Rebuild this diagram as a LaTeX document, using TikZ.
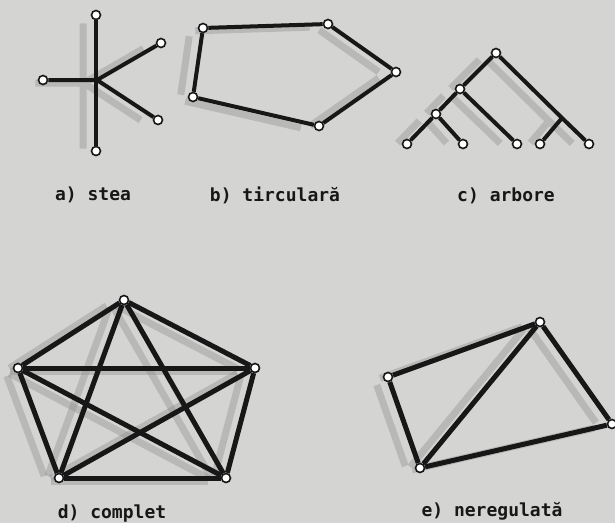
\documentclass[tikz,border=0pt]{standalone}
\usepackage{fontspec}
\setmonofont{DejaVu Sans Mono}
\usetikzlibrary{positioning}
\pgfdeclarelayer{smudge}
\pgfsetlayers{smudge,main}
\definecolor{Paper}{HTML}{D4D4D2}
\definecolor{Ink}{HTML}{171717}
\definecolor{Smudge}{HTML}{8E8E8C}

\begin{document}
\begin{tikzpicture}[
    x=1pt, y=-1pt,
    vtx/.style={
        circle,
        draw=Ink,
        fill=white,
        line width=1.6pt,
        minimum size=9pt,
        inner sep=0pt
    },
    link/.style={draw=Ink, line width=4pt},
    heavy/.style={draw=Ink, line width=5pt},
    ghost/.style={draw=Smudge, line width=7pt, opacity=0.4},
    caption/.style={font=\ttfamily\bfseries\fontsize{18}{18}\selectfont, text=Ink}
]

\useasboundingbox (0,0) rectangle (615,523);

% a) star
\coordinate (a) at (97,80);
\node[vtx] (a1) at (96,15) {};
\node[vtx] (a2) at (43,80) {};
\node[vtx] (a3) at (161,43) {};
\node[vtx] (a4) at (158,120) {};
\node[vtx] (a5) at (96,151) {};

% b) ring
\node[vtx] (b1) at (203,28) {};
\node[vtx] (b2) at (328,24) {};
\node[vtx] (b3) at (396,72) {};
\node[vtx] (b4) at (319,126) {};
\node[vtx] (b5) at (193,97) {};

% c) tree
\node[vtx] (c0) at (496,53) {};
\node[vtx] (c1) at (460,89) {};
\node[vtx] (c2) at (436,114) {};
\coordinate (c3) at (562,118);
\node[vtx] (l1) at (407,144) {};
\node[vtx] (l2) at (463,144) {};
\node[vtx] (l3) at (517,144) {};
\node[vtx] (l4) at (540,144) {};
\node[vtx] (l5) at (589,144) {};

% d) complete
\node[vtx] (d1) at (124,300) {};
\node[vtx] (d2) at (255,368) {};
\node[vtx] (d3) at (226,478) {};
\node[vtx] (d4) at (59,478) {};
\node[vtx] (d5) at (18,368) {};

% e) irregular
\node[vtx] (e1) at (388,377) {};
\node[vtx] (e2) at (540,322) {};
\node[vtx] (e3) at (612,424) {};
\node[vtx] (e4) at (420,468) {};

% paper and smudged print shadow, behind everything
\begin{pgfonlayer}{smudge}
\fill[Paper] (0,0) rectangle (615,523);
\begin{scope}[transform canvas={shift={(-13pt,-3pt)}}]
\draw[ghost] (a1) -- (a5) (a2) -- (a) -- (a3) (a) -- (a4);
\draw[ghost] (b1) -- (b2) -- (b3) -- (b4) -- (b5) -- (b1);
\draw[ghost] (c0) -- (c1) -- (c2) -- (l1) (c2) -- (l2) (c1) -- (l3)
    (c0) -- (c3) -- (l5) (c3) -- (l4);
\foreach \i in {1,...,5}
    \foreach \j in {1,...,5}
        {\ifnum\i<\j \draw[ghost] (d\i) -- (d\j); \fi}
\draw[ghost] (e1) -- (e2) -- (e3) -- (e4) -- (e1) (e4) -- (e2);
\end{scope}
\end{pgfonlayer}

% edges
\draw[link] (a1) -- (a5);
\draw[link] (a2) -- (a) -- (a3);
\draw[link] (a) -- (a4);

\draw[link] (b1) -- (b2) -- (b3) -- (b4) -- (b5) -- (b1);

\draw[link] (c0) -- (c1) -- (c2) -- (l1);
\draw[link] (c2) -- (l2);
\draw[link] (c1) -- (l3);
\draw[link] (c0) -- (c3) -- (l5);
\draw[link] (c3) -- (l4);

\foreach \i in {1,...,5}
    \foreach \j in {1,...,5}
        {\ifnum\i<\j \draw[heavy] (d\i) -- (d\j); \fi}

\draw[heavy] (e1) -- (e2) -- (e3) -- (e4) -- (e1);
\draw[heavy] (e4) -- (e2);

% captions
\node[caption] (ta) at (93,195) {a) stea};
\node[caption] (tb) at (275,195) {b) tirculară};
\node[caption] (tc) at (506,196) {c) arbore};
\node[caption] (td) at (112,514) {d) complet};
\node[caption] (te) at (492,511) {e) neregulată};

\end{tikzpicture}
\end{document}
